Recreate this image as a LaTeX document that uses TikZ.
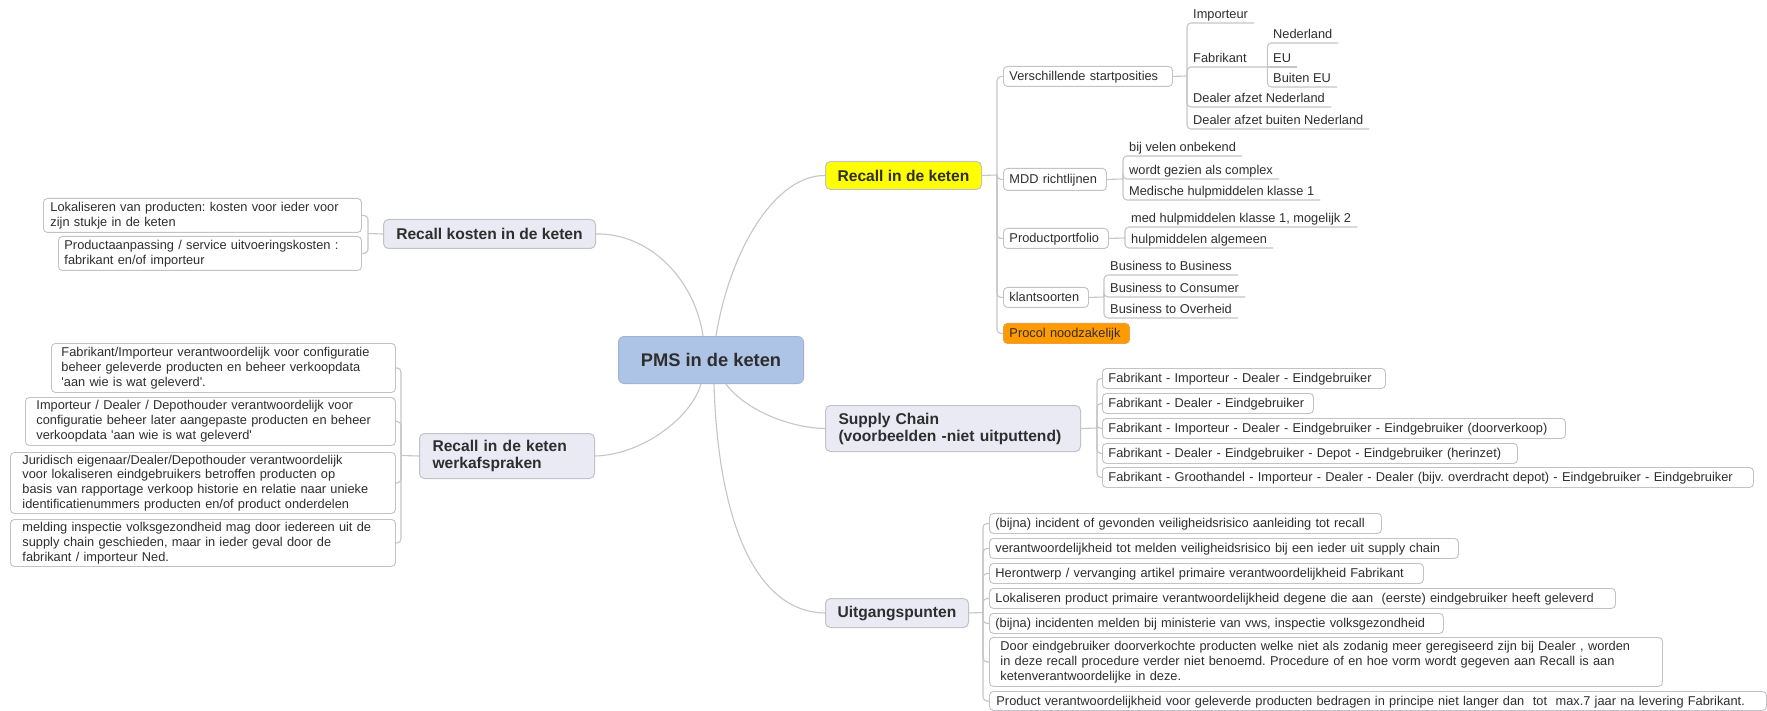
\documentclass[tikz,border=0pt]{standalone}
\usepackage{fontspec}
\setmainfont{Liberation Sans}
\frenchspacing
\definecolor{linec}{HTML}{C6C6C6}
\definecolor{bordc}{HTML}{C2C2C8}
\definecolor{lonefill}{HTML}{E9EAF4}
\definecolor{pmsfill}{HTML}{AEC4E6}
\definecolor{pmsbord}{HTML}{9FB3D2}
\definecolor{txt}{HTML}{2E2E2E}
\definecolor{yel}{HTML}{FFFF00}
\definecolor{orng}{HTML}{FF9A00}
\definecolor{orngb}{HTML}{E8A040}
\tikzset{
  conn/.style={draw=linec, line width=1.1pt},
  br/.style={conn, rounded corners=4pt},
  pmsbox/.style={draw=pmsbord, fill=pmsfill, rounded corners=6pt, line width=1pt,
    font=\fontsize{18.3}{22}\selectfont\bfseries, text=txt, anchor=north west, inner sep=0pt},
  lone/.style={draw=bordc, fill=lonefill, rounded corners=5pt, line width=1pt,
    font=\fontsize{15.6}{18}\selectfont\bfseries, text=txt, anchor=north west, inner sep=0pt},
  sbox/.style={draw=bordc, fill=white, rounded corners=4pt, line width=0.9pt,
    font=\fontsize{12.8}{14.8}\selectfont, text=txt, anchor=north west,
    inner xsep=6pt, inner ysep=0pt, align=left, text height=10.2pt, text depth=1.8pt},
  mbox/.style={draw=bordc, fill=white, rounded corners=4pt, line width=0.9pt,
    font=\fontsize{12.8}{14.8}\selectfont, text=txt, anchor=north west,
    inner ysep=0pt, align=left},
  leaf/.style={font=\fontsize{12.8}{14.8}\selectfont, text=txt, anchor=south west,
    inner xsep=6pt, inner ysep=1.5pt, text height=9.5pt, text depth=2.5pt},
}
\begin{document}
\begin{tikzpicture}[x=1pt,y=-1pt]
\fill[white] (0,0) rectangle (1767,711);
\useasboundingbox (0,0) rectangle (1767,711);

% central and main topics
\node[pmsbox, minimum width=185pt, minimum height=47pt] (pms) at (618,336) {PMS in de keten};
\node[lone, fill=yel, minimum width=156pt, minimum height=28pt] (ric) at (825,161) {Recall in de keten};
\node[lone, minimum width=212pt, minimum height=29pt] (rk) at (383,219) {Recall kosten in de keten};
\node[lone, align=left, inner xsep=13pt, text width=149pt, minimum height=45pt] (wk) at (419,433)
  {\mbox{Recall in de keten}\\[-1pt]\mbox{werkafspraken}};
\node[lone, align=left, inner xsep=13pt, text width=229pt, minimum height=46pt] (sc) at (825,405)
  {\mbox{Supply Chain}\\[-1pt]\mbox{(voorbeelden -niet uitputtend)}};
\node[lone, minimum width=143pt, minimum height=29pt] (ug) at (825,598) {Uitgangspunten};

% curves from centre
\draw[conn] ([xshift=5pt]pms.north) .. controls (730,250) and (775,175) .. (ric.west);
\draw[conn] (rk.east) .. controls (650,233) and (695,280) .. ([xshift=-8pt]pms.north);
\draw[conn] ([xshift=-10pt]pms.south) .. controls (690,420) and (640,455) .. (wk.east);
\draw[conn] ([xshift=15pt]pms.south) .. controls (745,410) and (790,428) .. (sc.west);
\draw[conn] ([xshift=3pt]pms.south) .. controls (718,520) and (755,612) .. (ug.west);

% Recall in de keten children
\node[sbox, minimum height=20pt, text width=157pt] (vs) at (1003,66) {Verschillende startposities};
\node[sbox, minimum height=22pt, text width=91pt] (mdd) at (1003,168) {MDD richtlijnen};
\node[sbox, minimum height=20pt, text width=93pt] (pp) at (1003,228) {Productportfolio};
\node[sbox, minimum height=20pt, text width=73pt] (ks) at (1003,287) {klantsoorten};
\node[sbox, fill=orng, draw=orngb, minimum height=20pt, text width=114pt] (pc) at (1003,323) {\mbox{Procol noodzakelijk}};
\coordinate (rj) at (997,175);
\draw[conn] (ric.east) -- (rj);
\foreach \n in {vs,mdd,pp,ks,pc} \draw[br] (rj) |- (\n.west);

% Verschillende startposities leaves
\coordinate (vj) at (1187,76);
\draw[conn] (vs.east) -- (vj);
\node[leaf] (imp) at (1187,23) {Importeur};
\node[leaf, text width=68pt, align=left] (fab) at (1187,67) {Fabrikant};
\node[leaf] (dan) at (1187,107) {Dealer afzet Nederland};
\node[leaf] (dbn) at (1187,129) {Dealer afzet buiten Nederland};
\foreach \n in {imp,fab,dan,dbn} \draw[br] (vj) |- (\n.south east);
\node[leaf] (ned) at (1267,43) {Nederland};
\node[leaf] (eu) at (1267,67) {EU};
\node[leaf] (bue) at (1267,87) {Buiten EU};
\draw[br] (fab.south east) |- (ned.south east);
\draw[conn] (fab.south east) -- (eu.south east);
\draw[br] (fab.south east) |- (bue.south east);

% MDD leaves
\coordinate (mj) at (1123,179);
\draw[conn] (mdd.east) -- (mj);
\node[leaf] (m1) at (1123,156) {bij velen onbekend};
\node[leaf] (m2) at (1123,179) {wordt gezien als complex};
\node[leaf] (m3) at (1123,200) {Medische hulpmiddelen klasse 1};
\foreach \n in {m1,m2,m3} \draw[br] (mj) |- (\n.south east);

% Productportfolio leaves
\coordinate (pj) at (1125,238);
\draw[conn] (pp.east) -- (pj);
\node[leaf] (p1) at (1125,227) {med hulpmiddelen klasse 1, mogelijk 2};
\node[leaf] (p2) at (1125,248) {hulpmiddelen algemeen};
\foreach \n in {p1,p2} \draw[br] (pj) |- (\n.south east);

% klantsoorten leaves
\coordinate (kj2) at (1104,297);
\draw[conn] (ks.east) -- (kj2);
\node[leaf] (k1) at (1104,275) {Business to Business};
\node[leaf] (k2) at (1104,297) {Business to Consumer};
\node[leaf] (k3) at (1104,318) {Business to Overheid};
\foreach \n in {k1,k2,k3} \draw[br] (kj2) |- (\n.south east);

% Recall kosten children
\node[mbox, inner xsep=7pt, text width=304pt, minimum height=34pt] (lk1) at (43,198)
  {Lokaliseren van producten: kosten voor ieder voor\\zijn stukje in de keten};
\node[mbox, inner xsep=6pt, text width=291pt, minimum height=34pt] (lk2) at (58,236)
  {Productaanpassing / service uitvoeringskosten :\\fabrikant en/of importeur};
\coordinate (kj) at (368,233.5);
\draw[conn] (rk.west) -- (kj);
\foreach \n in {lk1,lk2} \draw[br] (kj) |- (\n.east);

% werkafspraken children
\node[mbox, inner xsep=10pt, text width=324pt, minimum height=49pt] (w1) at (51,343)
  {\mbox{Fabrikant/Importeur verantwoordelijk voor configuratie}\\\mbox{beheer geleverde producten en beheer verkoopdata}\\\textquotesingle aan wie is wat geleverd\textquotesingle.};
\node[mbox, inner xsep=11pt, text width=348pt, minimum height=48pt] (w2) at (25,397)
  {\mbox{Importeur / Dealer / Depothouder verantwoordelijk voor}\\\mbox{configuratie beheer later aangepaste producten en beheer}\\\mbox{verkoopdata \textquotesingle aan wie is wat geleverd\textquotesingle}};
\node[mbox, inner xsep=12pt, text width=361pt, minimum height=61pt] (w3) at (10,452)
  {\mbox{Juridisch eigenaar/Dealer/Depothouder verantwoordelijk}\\\mbox{voor lokaliseren eindgebruikers betroffen producten op}\\\mbox{basis van rapportage verkoop historie en relatie naar unieke}\\\mbox{identificatienummers producten en/of product onderdelen}};
\node[mbox, inner xsep=12pt, text width=361pt, minimum height=47pt] (w4) at (10,519)
  {\mbox{melding inspectie volksgezondheid mag door iedereen uit de}\\\mbox{supply chain geschieden, maar in ieder geval door de}\\\mbox{fabrikant / importeur Ned.}};
\coordinate (wj) at (401,455.5);
\draw[conn] (wk.west) -- (wj);
\foreach \n in {w1,w2,w3,w4} \draw[br] (wj) |- (\n.east);

% Supply chain children
\node[sbox, minimum height=20pt, text width=271pt] (s1) at (1102,368) {\mbox{Fabrikant - Importeur - Dealer - Eindgebruiker}};
\node[sbox, minimum height=20pt, text width=199pt] (s2) at (1102,393) {\mbox{Fabrikant - Dealer - Eindgebruiker}};
\node[sbox, minimum height=20pt, text width=451pt] (s3) at (1102,418) {\mbox{Fabrikant - Importeur - Dealer - Eindgebruiker - Eindgebruiker (doorverkoop)}};
\node[sbox, minimum height=20pt, text width=403pt] (s4) at (1102,443) {\mbox{Fabrikant - Dealer - Eindgebruiker - Depot - Eindgebruiker (herinzet)}};
\node[sbox, minimum height=20pt, text width=639pt] (s5) at (1102,467) {\mbox{Fabrikant - Groothandel - Importeur - Dealer - Dealer (bijv. overdracht depot) - Eindgebruiker - Eindgebruiker}};
\coordinate (sj) at (1097,428);
\draw[conn] (sc.east) -- (sj);
\foreach \n in {s1,s2,s3,s4,s5} \draw[br] (sj) |- (\n.west);

% Uitgangspunten children
\node[sbox, minimum height=20pt, text width=380pt] (u1) at (989,513) {\mbox{(bijna) incident of gevonden veiligheidsrisico aanleiding tot recall}};
\node[sbox, minimum height=20pt, text width=457pt] (u2) at (989,538) {\mbox{verantwoordelijkheid tot melden veiligheidsrisico bij een ieder uit supply chain}};
\node[sbox, minimum height=20pt, text width=422pt] (u3) at (989,563) {\mbox{Herontwerp / vervanging artikel primaire verantwoordelijkheid Fabrikant}};
\node[sbox, minimum height=20pt, text width=614pt] (u4) at (989,588) {\mbox{Lokaliseren product primaire verantwoordelijkheid degene die aan\ \ (eerste) eindgebruiker heeft geleverd}};
\node[sbox, minimum height=20pt, text width=442pt] (u5) at (989,613) {\mbox{(bijna) incidenten melden bij ministerie van vws, inspectie volksgezondheid}};
\node[mbox, inner xsep=11pt, text width=651pt, minimum height=49pt] (u6) at (989,637)
  {\mbox{Door eindgebruiker doorverkochte producten welke niet als zodanig meer geregiseerd zijn bij Dealer , worden}\\\mbox{in deze recall procedure verder niet benoemd. Procedure of en hoe vorm wordt gegeven aan Recall is aan}\\\mbox{ketenverantwoordelijke in deze.}};
\node[sbox, inner xsep=7pt, minimum height=19pt, text width=763pt] (u7) at (989,691) {\mbox{Product verantwoordelijkheid voor geleverde producten bedragen in principe niet langer dan\ \ tot\ \ max.7 jaar na levering Fabrikant.}};
\coordinate (uj) at (983,612.5);
\draw[conn] (ug.east) -- (uj);
\foreach \n in {u1,u2,u3,u4,u5,u6,u7} \draw[br] (uj) |- (\n.west);
\end{tikzpicture}
\end{document}
